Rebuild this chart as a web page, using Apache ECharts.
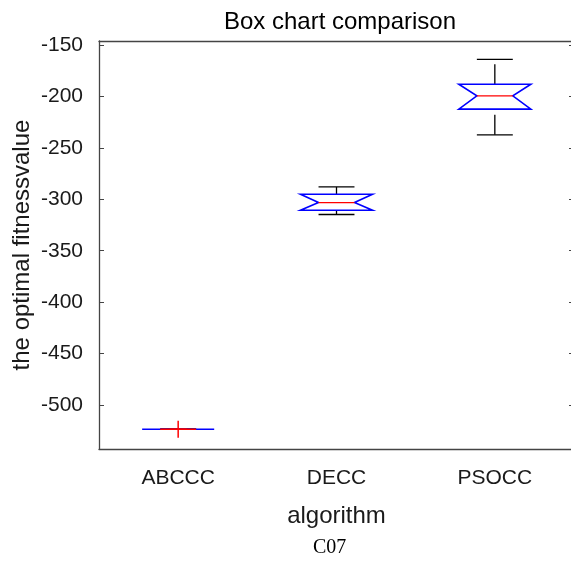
<!DOCTYPE html>
<html>
<head>
<meta charset="utf-8">
<script src="https://cdn.jsdelivr.net/npm/echarts@6/dist/echarts.min.js"></script>
<style>
html,body{margin:0;padding:0;background:#fff;}
#main{width:571px;height:562px;}
</style>
</head>
<body>
<div id="main"></div>
<script>
// categories
var categories = ['ABCCC', 'DECC', 'PSOCC'];
// box values
var whiskerLow  = [-523.6, -314.8, -237.3];
var q1          = [-523.6, -310.7, -212.3];
var median      = [-523.6, -303.2, -199.4];
var q3          = [-523.6, -295.1, -188.1];
var whiskerHigh = [-523.6, -288.0, -163.9];
var outliers    = [[-523.6], [], []];
// y tick labels
var yTicks = [-500, -450, -400, -350, -300, -250, -200, -150];

var boxData = categories.map(function (c, i) {
    return [i, whiskerLow[i], q1[i], median[i], q3[i], whiskerHigh[i]];
});
var outlierData = [];
outliers.forEach(function (arr, i) {
    arr.forEach(function (v) { outlierData.push([i, v]); });
});

var axisColor = '#444';
var labelFont = {color: '#1a1a1a', fontSize: 21, fontFamily: 'Liberation Sans, Arial, sans-serif'};

function renderBox(params, api) {
    var i = api.value(0);
    var pLo = api.coord([i, api.value(1)]);
    var pQ1 = api.coord([i, api.value(2)]);
    var pMed = api.coord([i, api.value(3)]);
    var pQ3 = api.coord([i, api.value(4)]);
    var pHi = api.coord([i, api.value(5)]);
    var band = api.size([1, 0])[0];
    var hw = band * 0.2275, nw = band * 0.1135, cw = band * 0.1135;
    var x = pMed[0];
    var black = {stroke: '#000', lineWidth: 1.3};
    return {
        type: 'group',
        children: [
            // whiskers (dashed)
            {type: 'line', shape: {x1: x, y1: pQ3[1], x2: x, y2: pHi[1]},
             style: {stroke: '#000', lineWidth: 1.3, lineDash: [20, 5]}},
            {type: 'line', shape: {x1: x, y1: pLo[1], x2: x, y2: pQ1[1]},
             style: {stroke: '#000', lineWidth: 1.3, lineDash: [20, 5]}},
            // caps
            {type: 'line', shape: {x1: x - cw, y1: pHi[1], x2: x + cw, y2: pHi[1]}, style: black},
            {type: 'line', shape: {x1: x - cw, y1: pLo[1], x2: x + cw, y2: pLo[1]}, style: black},
            // notched box
            {type: 'polygon', shape: {points: [
                [x - hw, pQ3[1]], [x + hw, pQ3[1]], [x + nw, pMed[1]],
                [x + hw, pQ1[1]], [x - hw, pQ1[1]], [x - nw, pMed[1]]
            ]}, style: {fill: null, stroke: '#0000ff', lineWidth: 1.6}},
            // median
            {type: 'line', shape: {x1: x - nw, y1: pMed[1], x2: x + nw, y2: pMed[1]},
             style: {stroke: '#ff0000', lineWidth: 1.3}}
        ]
    };
}

function renderOutlier(params, api) {
    var p = api.coord([api.value(0), api.value(1)]);
    var s = 8.5;
    return {
        type: 'group',
        children: [
            {type: 'line', shape: {x1: p[0] - s, y1: p[1], x2: p[0] + s, y2: p[1]}, style: {stroke: '#ff0000', lineWidth: 1.5}},
            {type: 'line', shape: {x1: p[0], y1: p[1] - s, x2: p[0], y2: p[1] + s}, style: {stroke: '#ff0000', lineWidth: 1.5}}
        ]
    };
}

var myChart = echarts.init(document.getElementById('main'));
myChart.setOption({
    animation: false,
    title: {
        text: 'Box chart comparison',
        left: 335,
        top: 5,
        textAlign: 'center',
        textStyle: {color: '#000', fontSize: 24, fontWeight: 'normal', fontFamily: 'Liberation Sans, Arial, sans-serif'}
    },
    grid: {left: 99, top: 41, width: 475, height: 408, outerBoundsMode: 'none', containLabel: false},
    xAxis: [{
        type: 'category',
        data: categories,
        position: 'bottom',
        name: 'algorithm',
        nameLocation: 'middle',
        nameGap: 55,
        nameMoveOverlap: false,
        nameTextStyle: {color: '#1a1a1a', fontSize: 24, fontFamily: 'Liberation Sans, Arial, sans-serif'},
        axisLine: {lineStyle: {color: axisColor, width: 1.3}},
        axisTick: {inside: true, length: 5, alignWithLabel: true, lineStyle: {color: axisColor}},
        axisLabel: Object.assign({margin: 19}, labelFont),
        splitLine: {show: false}
    }, {
        type: 'category',
        data: categories,
        position: 'top',
        axisLine: {lineStyle: {color: axisColor, width: 1.3}},
        axisTick: {inside: true, length: 5, alignWithLabel: true, lineStyle: {color: axisColor}},
        axisLabel: {show: false},
        splitLine: {show: false}
    }],
    yAxis: [{
        type: 'value',
        min: -542.8,
        max: -146.1,
        position: 'left',
        name: 'the optimal fitnessvalue',
        nameLocation: 'middle',
        nameRotate: 90,
        nameGap: 65,
        nameMoveOverlap: false,
        nameTextStyle: {color: '#1a1a1a', fontSize: 24, fontFamily: 'Liberation Sans, Arial, sans-serif'},
        axisLine: {show: true, lineStyle: {color: axisColor, width: 1.3}},
        axisTick: {show: true, inside: true, length: 5, customValues: yTicks, lineStyle: {color: axisColor}},
        axisLabel: Object.assign({margin: 16, customValues: yTicks}, labelFont),
        splitLine: {show: false}
    }, {
        type: 'value',
        min: -542.8,
        max: -146.1,
        position: 'right',
        axisLine: {show: false},
        axisTick: {show: true, inside: true, length: 5, customValues: yTicks, lineStyle: {color: axisColor}},
        axisLabel: {show: false},
        splitLine: {show: false}
    }],
    graphic: [{
        type: 'text',
        left: 313,
        top: 538,
        style: {text: 'C07', fill: '#000', font: '20px "Liberation Serif", "Times New Roman", serif'}
    }],
    series: [{
        type: 'custom',
        name: 'box',
        renderItem: renderBox,
        data: boxData,
        encode: {x: 0, y: [1, 2, 3, 4, 5]}
    }, {
        type: 'custom',
        name: 'outlier',
        renderItem: renderOutlier,
        data: outlierData,
        encode: {x: 0, y: 1}
    }]
});
</script>
</body>
</html>
